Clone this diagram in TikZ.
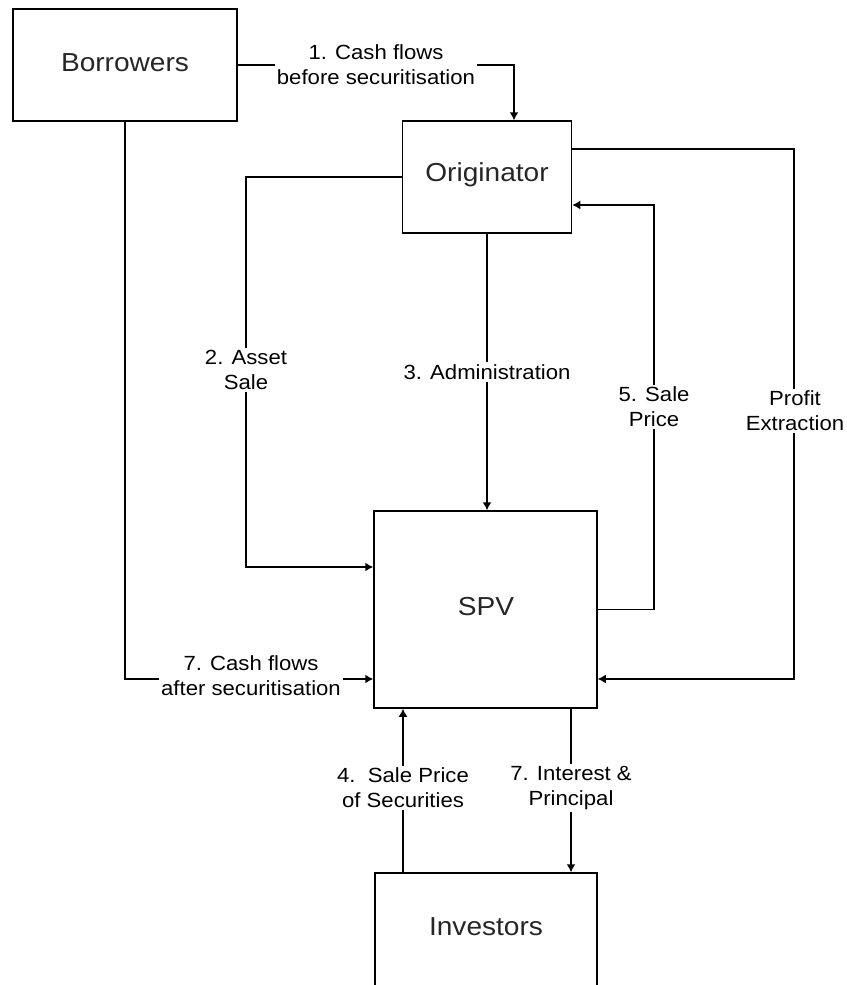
\documentclass[tikz,border=0pt]{standalone}
\usepackage{fontspec}
\setmainfont{Liberation Sans}[FakeStretch=1.08]
\usetikzlibrary{arrows.meta,calc}
\begin{document}
\begin{tikzpicture}[x=1pt,y=-1pt,
  box/.style={draw=black,line width=1.5pt,inner sep=0pt,fill=white},
  boxtext/.style={inner sep=0pt,text=black!85,font=\fontsize{26}{30}\selectfont},
  lbl/.style={fill=white,inner sep=2pt,align=center,font=\fontsize{20.5}{25}\selectfont},
  arr/.style={line width=1.5pt,-{Latex[length=8pt,width=9pt]}}]
\clip (0,0) rectangle (846,985);
\fill[white] (0,0) rectangle (846,985);
% boxes
\node[box,minimum width=224pt,minimum height=112pt] (bor) at (125,65) {};
\node[boxtext] (bort) at (125,63) {Borrowers};
\node[box,minimum width=169pt,minimum height=112pt] (orig) at (487,177) {};
\node[boxtext] (origt) at (487,175) {Originator};
\node[box,minimum width=223pt,minimum height=197pt] (spv) at (485.5,609.5) {};
\node[boxtext] (spvt) at (486,607) {SPV};
\node[box,minimum width=222pt,minimum height=140pt] (inv) at (486,943) {};
\node[boxtext] (invt) at (486,927) {Investors};
% helper coordinates
\coordinate (c2) at (246,0);
\coordinate (c5) at (654,0);
\coordinate (cP) at (794,0);
\coordinate (sA) at ([yshift=42.5pt]spv.west);
\coordinate (sC) at ([yshift=-69.5pt]spv.west);
\coordinate (sD) at ([yshift=-69.5pt]spv.east);
\coordinate (oA) at ([yshift=28pt]orig.east);
\coordinate (oB) at ([yshift=-28pt]orig.east);
\coordinate (oT) at ([xshift=27pt]orig.north);
\coordinate (iA) at ([xshift=-83pt]inv.north);
\coordinate (sB) at ([xshift=85pt]inv.north);
% connectors
\draw[arr] (bor.east) -| (oT);
\draw[arr] (orig.west) -| (c2 |- sA) -- (sA);
\draw[arr] (orig.south) -- (orig.south |- spv.north);
\draw[arr] (spv.east) -| (c5 |- oB) -- (oB);
\draw[arr] (oA) -| (cP |- sD) -- (sD);
\draw[arr] (bor.south) |- (sC);
\draw[arr] (iA) -- (iA |- spv.south);
\draw[arr] (sB |- spv.south) -- (sB);
% labels
\node[lbl] (l1) at (376,64.5) {1. Cash flows\\before securitisation};
\node[lbl] (l2) at (246,370) {2. Asset\\Sale};
\node[lbl] (l3) at (487,372) {3. Administration};
\node[lbl] (l5) at (654,407) {5. Sale\\Price};
\node[lbl] (lP) at (795,411) {Profit\\Extraction};
\node[lbl] (l7a) at (251,676) {7. Cash flows\\after securitisation};
\node[lbl] (l4) at (403,788) {4.\ \ Sale Price\\of Securities};
\node[lbl] (l7b) at (571,788) {7. Interest \&\\Principal};
\end{tikzpicture}
\end{document}
